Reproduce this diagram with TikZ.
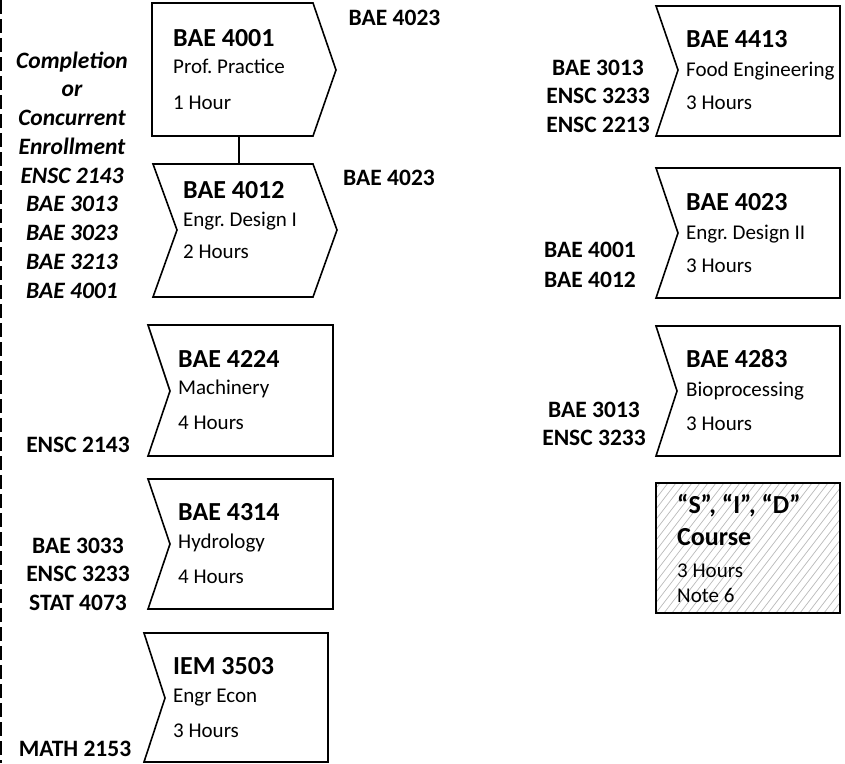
\documentclass[tikz,border=0pt]{standalone}
\usepackage{fontspec}
\setmainfont{Carlito}
\frenchspacing
\begin{document}
\begin{tikzpicture}[x=1pt,y=-1pt,
  course/.style={draw=black, line width=1.6pt, line join=miter, fill=white},
  title/.style={anchor=base west, inner sep=0pt, font=\fontsize{26}{30}\selectfont\bfseries},
  body/.style={anchor=base west, inner sep=0pt, font=\fontsize{21}{25}\selectfont},
  pre/.style={anchor=base, inner sep=0pt, font=\fontsize{23.5}{27}\selectfont\bfseries},
  prei/.style={anchor=base, inner sep=0pt, font=\fontsize{23.5}{27}\selectfont\bfseries\itshape},
  hatch/.style={draw=gray!55, line width=0.7pt},
  link/.style={draw=black, line width=1.6pt},
  divider/.style={draw=black, line width=2pt, dash pattern=on 14pt off 5pt}]
\useasboundingbox (0,0) rectangle (845,763);

% left dashed divider
\coordinate (divtop) at (1,0);
\coordinate (divbot) at (1,763);
\draw[divider] (divtop) -- (divbot);

% ---- course shapes ----
\draw[course] (152,3) -- (313,3) -- (336,70) -- (313,136) -- (152,136) -- cycle;
\draw[course] (153,164) -- (313,164) -- (337,230) -- (313,297) -- (153,297) -- (177,230) -- cycle;
\draw[course] (148,325) -- (333,325) -- (333,456) -- (148,456) -- (170,391) -- cycle;
\draw[course] (148,479) -- (333,479) -- (333,609) -- (148,609) -- (170,544) -- cycle;
\draw[course] (144,633) -- (328,633) -- (328,762) -- (144,762) -- (165,698) -- cycle;
\draw[course] (656,6) -- (840,6) -- (840,136) -- (656,136) -- (678,70) -- cycle;
\draw[course] (656,168) -- (840,168) -- (840,298) -- (656,298) -- (678,233) -- cycle;
\draw[course] (656,326) -- (840,326) -- (840,456) -- (656,456) -- (677,391) -- cycle;

% hatched S/I/D box
\begin{scope}
  \clip (656,483) rectangle (840,613);
  \foreach \k in {520,528,...,848} \draw[hatch] (\k,613) -- (\k+100,483);
\end{scope}
\draw[course, fill=none] (656,483) rectangle (840,613);

% connector 4001 -> 4012
\coordinate (b4001s) at (239,136);
\coordinate (b4012n) at (239,164);
\draw[link] (b4001s) -- (b4012n);

% ---- texts in boxes ----
\node[title] (t4001) at (173,46) {BAE 4001};
\node[body] (n4001) at (173,73) {Prof. Practice};
\node[body] (h4001) at (173,109) {1 Hour};

\node[title] (t4012) at (183,198) {BAE 4012};
\node[body] (n4012) at (183,226) {Engr. Design I};
\node[body] (h4012) at (183,258) {2 Hours};

\node[title] (t4224) at (178,367) {BAE 4224};
\node[body] (n4224) at (178,394) {Machinery};
\node[body] (h4224) at (178,429) {4 Hours};

\node[title] (t4314) at (178,520) {BAE 4314};
\node[body] (n4314) at (178,548) {Hydrology};
\node[body] (h4314) at (178,583) {4 Hours};

\node[title] (t3503) at (173,674) {IEM 3503};
\node[body] (n3503) at (173,702) {Engr Econ};
\node[body] (h3503) at (173,737) {3 Hours};

\node[title] (t4413) at (686,47) {BAE 4413};
\node[body] (n4413) at (686,76) {Food Engineering};
\node[body] (h4413) at (686,109) {3 Hours};

\node[title] (t4023) at (686,210) {BAE 4023};
\node[body] (n4023) at (686,239) {Engr. Design II};
\node[body] (h4023) at (686,272) {3 Hours};

\node[title] (t4283) at (686,367) {BAE 4283};
\node[body] (n4283) at (686,396) {Bioprocessing};
\node[body] (h4283) at (686,430) {3 Hours};

\node[title] (tsid) at (677,513) {“S”, “I”, “D”};
\node[title] (csid) at (677,545) {Course};
\node[body] (hsid) at (677,577) {3 Hours};
\node[body] (nsid) at (677,602) {Note 6};

% ---- prerequisite labels ----
\foreach \t [count=\i] in {Completion, or, Concurrent, Enrollment, ENSC 2143, BAE 3013, BAE 3023, BAE 3213, BAE 4001}
  \node[prei] (conc\i) at (72,{68+28.75*(\i-1)}) {\t};

\node[pre] (p4001) at (394.5,25) {BAE 4023};
\node[pre] (p4012) at (389,185) {BAE 4023};

\node[pre] (p4224) at (78,452) {ENSC 2143};

\node[pre] (p4314a) at (78,553) {BAE 3033};
\node[pre] (p4314b) at (78,581.5) {ENSC 3233};
\node[pre] (p4314c) at (78,610) {STAT 4073};

\node[pre] (p3503) at (75,756) {MATH 2153};

\node[pre] (p4413a) at (598,75) {BAE 3013};
\node[pre] (p4413b) at (598,103.5) {ENSC 3233};
\node[pre] (p4413c) at (598,132) {ENSC 2213};

\node[pre] (p4023a) at (590,257) {BAE 4001};
\node[pre] (p4023b) at (590,287) {BAE 4012};

\node[pre] (p4283a) at (594,417) {BAE 3013};
\node[pre] (p4283b) at (594,445) {ENSC 3233};
\end{tikzpicture}
\end{document}
